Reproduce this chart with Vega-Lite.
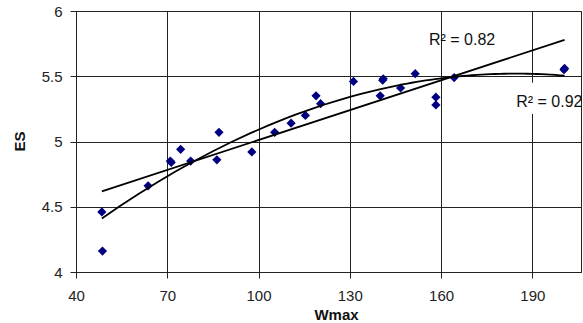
{
  "$schema": "https://vega.github.io/schema/vega-lite/v6.json",
  "autosize": {"type": "none"},
  "padding": {"left": 76, "top": 11, "right": 2, "bottom": 51},
  "width": 505,
  "height": 261,
  "background": "white",
  "config": {
    "view": {"stroke": "#222", "strokeWidth": 1},
    "font": "Liberation Sans"
  },
  "datasets": {
    "points": [
      {"Wmax": 48.5, "ES": 4.46},
      {"Wmax": 48.7, "ES": 4.16},
      {"Wmax": 63.7, "ES": 4.66},
      {"Wmax": 71.0, "ES": 4.85},
      {"Wmax": 71.3, "ES": 4.84},
      {"Wmax": 74.4, "ES": 4.94},
      {"Wmax": 77.7, "ES": 4.85},
      {"Wmax": 86.3, "ES": 4.86},
      {"Wmax": 87.0, "ES": 5.07},
      {"Wmax": 97.8, "ES": 4.92},
      {"Wmax": 105.3, "ES": 5.07},
      {"Wmax": 110.7, "ES": 5.14},
      {"Wmax": 115.4, "ES": 5.20},
      {"Wmax": 118.9, "ES": 5.35},
      {"Wmax": 120.4, "ES": 5.29},
      {"Wmax": 131.2, "ES": 5.46},
      {"Wmax": 140.8, "ES": 5.47},
      {"Wmax": 141.0, "ES": 5.48},
      {"Wmax": 140.0, "ES": 5.35},
      {"Wmax": 146.7, "ES": 5.41},
      {"Wmax": 151.5, "ES": 5.52},
      {"Wmax": 158.3, "ES": 5.34},
      {"Wmax": 158.3, "ES": 5.28},
      {"Wmax": 164.3, "ES": 5.49},
      {"Wmax": 200.4, "ES": 5.55},
      {"Wmax": 200.6, "ES": 5.56}
    ],
    "labels": [
      {"label": "R² = 0.82", "Wmax": 166.9, "ES": 5.777},
      {"label": "R² = 0.92", "Wmax": 195.6, "ES": 5.30}
    ],
    "box": [
      {"x1": 183.5, "x2": 206, "y1": 5.21, "y2": 5.45}
    ]
  },
  "layer": [
    {
      "data": {"name": "points"},
      "mark": {"type": "point", "shape": "diamond", "filled": true, "color": "#000080", "size": 85, "opacity": 1},
      "encoding": {
        "x": {
          "field": "Wmax", "type": "quantitative",
          "scale": {"domain": [40, 206], "nice": false, "zero": false},
          "axis": {
            "values": [40, 70, 100, 130, 160, 190],
            "grid": true, "gridColor": "#222", "gridWidth": 1,
            "domainColor": "#222", "tickColor": "#222", "tickSize": 6,
            "labelFont": "Liberation Sans", "labelFontSize": 15, "labelColor": "#222",
            "labelPadding": 10, "labelFlush": false,
            "title": "Wmax", "titleFont": "Liberation Sans", "titleFontSize": 15,
            "titleFontWeight": "bold", "titleColor": "#111",
            "titleX": 260, "titleY": 47, "titleBaseline": "alphabetic"
          }
        },
        "y": {
          "field": "ES", "type": "quantitative",
          "scale": {"domain": [4, 6], "nice": false, "zero": false},
          "axis": {
            "values": [4, 4.5, 5, 5.5, 6], "format": "~g",
            "grid": true, "gridColor": "#222", "gridWidth": 1,
            "domainColor": "#222", "tickColor": "#222", "tickSize": 6,
            "labelFont": "Liberation Sans", "labelFontSize": 15, "labelColor": "#222",
            "labelPadding": 8, "labelFlush": false,
            "title": "ES", "titleFont": "Liberation Sans", "titleFontSize": 15,
            "titleFontWeight": "bold", "titleColor": "#111",
            "titleX": -57, "titleY": 130, "titleBaseline": "middle", "titleAlign": "center"
          }
        }
      }
    },
    {
      "data": {"name": "points"},
      "transform": [{"regression": "ES", "on": "Wmax", "method": "linear"}],
      "mark": {"type": "line", "color": "#000", "strokeWidth": 1.8},
      "encoding": {
        "x": {"field": "Wmax", "type": "quantitative"},
        "y": {"field": "ES", "type": "quantitative"}
      }
    },
    {
      "data": {"name": "points"},
      "transform": [{"regression": "ES", "on": "Wmax", "method": "poly", "order": 2}],
      "mark": {"type": "line", "color": "#000", "strokeWidth": 1.8},
      "encoding": {
        "x": {"field": "Wmax", "type": "quantitative"},
        "y": {"field": "ES", "type": "quantitative"}
      }
    },
    {
      "data": {"name": "box"},
      "mark": {"type": "rect", "fill": "white"},
      "encoding": {
        "x": {"field": "x1", "type": "quantitative"},
        "x2": {"field": "x2"},
        "y": {"field": "y1", "type": "quantitative"},
        "y2": {"field": "y2"}
      }
    },
    {
      "data": {"name": "labels"},
      "mark": {"type": "text", "font": "Liberation Sans", "fontSize": 16, "color": "#111", "align": "center", "baseline": "middle"},
      "encoding": {
        "text": {"field": "label"},
        "x": {"field": "Wmax", "type": "quantitative"},
        "y": {"field": "ES", "type": "quantitative"}
      }
    }
  ]
}
